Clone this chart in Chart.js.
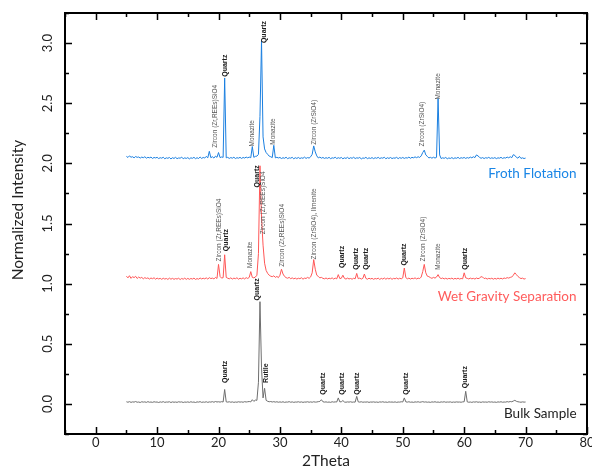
<!DOCTYPE html>
<html>
<head>
<meta charset="utf-8">
<script src="https://cdn.jsdelivr.net/npm/chart.js@4.4.1/dist/chart.umd.min.js"></script>
<style>
  html, body { margin: 0; padding: 0; background: #fff; }
  #wrap { width: 592px; height: 469px; }
</style>
</head>
<body>
<div id="wrap"><canvas id="xrd" width="592" height="469"></canvas></div>
<script>
// 2Theta grid, 5 to 70 in 0.25 steps
const twoTheta = [
  5, 5.25, 5.5, 5.75, 6, 6.25, 6.5, 6.75, 7, 7.25, 7.5, 7.75, 8, 8.25, 8.5, 8.75, 9, 9.25, 9.5, 9.75,
  10, 10.25, 10.5, 10.75, 11, 11.25, 11.5, 11.75, 12, 12.25, 12.5, 12.75, 13, 13.25, 13.5, 13.75, 14, 14.25, 14.5, 14.75,
  15, 15.25, 15.5, 15.75, 16, 16.25, 16.5, 16.75, 17, 17.25, 17.5, 17.75, 18, 18.25, 18.5, 18.75, 19, 19.25, 19.5, 19.75,
  20, 20.25, 20.5, 20.75, 21, 21.25, 21.5, 21.75, 22, 22.25, 22.5, 22.75, 23, 23.25, 23.5, 23.75, 24, 24.25, 24.5, 24.75,
  25, 25.25, 25.5, 25.75, 26, 26.25, 26.5, 26.75, 27, 27.25, 27.5, 27.75, 28, 28.25, 28.5, 28.75, 29, 29.25, 29.5, 29.75,
  30, 30.25, 30.5, 30.75, 31, 31.25, 31.5, 31.75, 32, 32.25, 32.5, 32.75, 33, 33.25, 33.5, 33.75, 34, 34.25, 34.5, 34.75,
  35, 35.25, 35.5, 35.75, 36, 36.25, 36.5, 36.75, 37, 37.25, 37.5, 37.75, 38, 38.25, 38.5, 38.75, 39, 39.25, 39.5, 39.75,
  40, 40.25, 40.5, 40.75, 41, 41.25, 41.5, 41.75, 42, 42.25, 42.5, 42.75, 43, 43.25, 43.5, 43.75, 44, 44.25, 44.5, 44.75,
  45, 45.25, 45.5, 45.75, 46, 46.25, 46.5, 46.75, 47, 47.25, 47.5, 47.75, 48, 48.25, 48.5, 48.75, 49, 49.25, 49.5, 49.75,
  50, 50.25, 50.5, 50.75, 51, 51.25, 51.5, 51.75, 52, 52.25, 52.5, 52.75, 53, 53.25, 53.5, 53.75, 54, 54.25, 54.5, 54.75,
  55, 55.25, 55.5, 55.75, 56, 56.25, 56.5, 56.75, 57, 57.25, 57.5, 57.75, 58, 58.25, 58.5, 58.75, 59, 59.25, 59.5, 59.75,
  60, 60.25, 60.5, 60.75, 61, 61.25, 61.5, 61.75, 62, 62.25, 62.5, 62.75, 63, 63.25, 63.5, 63.75, 64, 64.25, 64.5, 64.75,
  65, 65.25, 65.5, 65.75, 66, 66.25, 66.5, 66.75, 67, 67.25, 67.5, 67.75, 68, 68.25, 68.5, 68.75, 69, 69.25, 69.5, 69.75,
  70
];

// Froth Flotation (offset +2)
const frothFlotation = [
  2.058, 2.049, 2.062, 2.051, 2.055, 2.046, 2.057, 2.050, 2.053, 2.044, 2.052, 2.047, 2.055, 2.043, 2.050, 2.046, 2.052, 2.041, 2.049, 2.045,
  2.050, 2.040, 2.047, 2.043, 2.051, 2.038, 2.046, 2.042, 2.049, 2.037, 2.047, 2.041, 2.050, 2.039, 2.045, 2.043, 2.052, 2.038, 2.046, 2.041,
  2.048, 2.037, 2.046, 2.042, 2.050, 2.039, 2.047, 2.040, 2.053, 2.041, 2.049, 2.044, 2.058, 2.046, 2.100, 2.047, 2.055, 2.044, 2.060, 2.050,
  2.090, 2.048, 2.053, 2.050, 2.710, 2.046, 2.050, 2.041, 2.048, 2.043, 2.051, 2.040, 2.047, 2.043, 2.050, 2.041, 2.049, 2.044, 2.052, 2.046,
  2.052, 2.047, 2.140, 2.050, 2.058, 2.060, 2.075, 2.390, 3.020, 2.220, 2.120, 2.090, 2.075, 2.060, 2.055, 2.048, 2.150, 2.046, 2.050, 2.045,
  2.049, 2.040, 2.047, 2.042, 2.051, 2.039, 2.046, 2.043, 2.050, 2.038, 2.047, 2.041, 2.049, 2.040, 2.046, 2.042, 2.052, 2.041, 2.048, 2.044,
  2.055, 2.075, 2.145, 2.095, 2.062, 2.045, 2.052, 2.043, 2.049, 2.041, 2.047, 2.042, 2.050, 2.039, 2.046, 2.043, 2.051, 2.040, 2.047, 2.042,
  2.049, 2.038, 2.046, 2.041, 2.050, 2.039, 2.047, 2.042, 2.051, 2.040, 2.046, 2.043, 2.049, 2.037, 2.045, 2.042, 2.050, 2.039, 2.046, 2.041,
  2.048, 2.039, 2.047, 2.042, 2.050, 2.040, 2.046, 2.043, 2.051, 2.038, 2.047, 2.041, 2.049, 2.040, 2.045, 2.043, 2.050, 2.039, 2.048, 2.042,
  2.049, 2.041, 2.047, 2.044, 2.052, 2.042, 2.050, 2.046, 2.054, 2.047, 2.055, 2.049, 2.062, 2.090, 2.110, 2.070, 2.058, 2.045, 2.050, 2.043,
  2.051, 2.044, 2.050, 2.540, 2.070, 2.040, 2.046, 2.042, 2.049, 2.038, 2.045, 2.041, 2.048, 2.039, 2.046, 2.042, 2.050, 2.040, 2.047, 2.043,
  2.049, 2.041, 2.048, 2.043, 2.052, 2.046, 2.055, 2.048, 2.070, 2.062, 2.050, 2.042, 2.048, 2.040, 2.047, 2.043, 2.050, 2.041, 2.046, 2.042,
  2.048, 2.039, 2.046, 2.043, 2.050, 2.041, 2.047, 2.044, 2.052, 2.046, 2.055, 2.047, 2.072, 2.066, 2.050, 2.043, 2.058, 2.041, 2.046, 2.040,
  2.044
];

// Wet Gravity Separation (offset +1)
const wetGravity = [
  1.062, 1.048, 1.066, 1.044, 1.058, 1.050, 1.061, 1.043, 1.055, 1.046, 1.052, 1.040, 1.050, 1.043, 1.048, 1.038, 1.047, 1.041, 1.049, 1.037,
  1.046, 1.039, 1.044, 1.036, 1.045, 1.038, 1.043, 1.035, 1.046, 1.037, 1.044, 1.036, 1.042, 1.038, 1.045, 1.034, 1.043, 1.037, 1.046, 1.035,
  1.044, 1.036, 1.043, 1.038, 1.046, 1.035, 1.042, 1.037, 1.047, 1.039, 1.045, 1.040, 1.048, 1.038, 1.050, 1.042, 1.046, 1.039, 1.052, 1.043,
  1.160, 1.060, 1.046, 1.050, 1.240, 1.052, 1.045, 1.040, 1.048, 1.038, 1.046, 1.041, 1.049, 1.037, 1.045, 1.040, 1.048, 1.039, 1.050, 1.043,
  1.052, 1.100, 1.052, 1.048, 1.055, 1.070, 1.250, 1.980, 1.550, 1.320, 1.170, 1.110, 1.085, 1.070, 1.062, 1.058, 1.065, 1.052, 1.060, 1.050,
  1.070, 1.120, 1.080, 1.060, 1.050, 1.045, 1.052, 1.041, 1.048, 1.040, 1.046, 1.038, 1.045, 1.041, 1.049, 1.037, 1.046, 1.043, 1.052, 1.044,
  1.056, 1.090, 1.200, 1.120, 1.070, 1.060, 1.048, 1.052, 1.044, 1.040, 1.047, 1.039, 1.045, 1.041, 1.048, 1.038, 1.046, 1.040, 1.075, 1.042,
  1.045, 1.070, 1.044, 1.038, 1.046, 1.039, 1.043, 1.037, 1.045, 1.040, 1.085, 1.041, 1.046, 1.038, 1.044, 1.080, 1.043, 1.037, 1.045, 1.039,
  1.044, 1.036, 1.043, 1.039, 1.046, 1.035, 1.044, 1.038, 1.047, 1.037, 1.045, 1.039, 1.046, 1.036, 1.044, 1.040, 1.047, 1.038, 1.045, 1.040,
  1.048, 1.130, 1.050, 1.040, 1.046, 1.038, 1.045, 1.041, 1.048, 1.039, 1.046, 1.042, 1.055, 1.100, 1.160, 1.090, 1.062, 1.058, 1.050, 1.044,
  1.052, 1.046, 1.055, 1.075, 1.050, 1.042, 1.047, 1.039, 1.045, 1.038, 1.044, 1.040, 1.046, 1.037, 1.044, 1.039, 1.046, 1.038, 1.043, 1.040,
  1.090, 1.048, 1.044, 1.039, 1.046, 1.040, 1.044, 1.038, 1.047, 1.041, 1.046, 1.058, 1.055, 1.042, 1.046, 1.038, 1.044, 1.040, 1.045, 1.037,
  1.044, 1.038, 1.046, 1.040, 1.045, 1.039, 1.047, 1.043, 1.050, 1.046, 1.052, 1.055, 1.070, 1.090, 1.075, 1.060, 1.050, 1.042, 1.046, 1.038,
  1.042
];

// Bulk Sample
const bulkSample = [
  0.018, 0.014, 0.019, 0.013, 0.017, 0.015, 0.020, 0.014, 0.016, 0.012, 0.018, 0.015, 0.017, 0.013, 0.019, 0.014, 0.016, 0.013, 0.018, 0.015,
  0.016, 0.012, 0.017, 0.014, 0.019, 0.013, 0.016, 0.015, 0.018, 0.012, 0.017, 0.014, 0.016, 0.013, 0.018, 0.015, 0.017, 0.012, 0.016, 0.014,
  0.017, 0.013, 0.018, 0.014, 0.016, 0.012, 0.017, 0.015, 0.019, 0.013, 0.016, 0.014, 0.018, 0.013, 0.017, 0.015, 0.019, 0.014, 0.020, 0.016,
  0.018, 0.015, 0.019, 0.016, 0.120, 0.017, 0.015, 0.018, 0.014, 0.017, 0.013, 0.016, 0.014, 0.018, 0.015, 0.017, 0.014, 0.019, 0.016, 0.018,
  0.020, 0.017, 0.035, 0.021, 0.032, 0.030, 0.180, 0.850, 0.300, 0.050, 0.130, 0.030, 0.022, 0.018, 0.020, 0.016, 0.019, 0.015, 0.018, 0.014,
  0.017, 0.014, 0.018, 0.013, 0.016, 0.015, 0.019, 0.014, 0.017, 0.013, 0.016, 0.015, 0.018, 0.014, 0.017, 0.013, 0.016, 0.015, 0.018, 0.014,
  0.017, 0.014, 0.018, 0.015, 0.016, 0.019, 0.021, 0.035, 0.018, 0.015, 0.017, 0.014, 0.016, 0.013, 0.018, 0.015, 0.017, 0.016, 0.050, 0.017,
  0.018, 0.028, 0.016, 0.014, 0.017, 0.015, 0.018, 0.014, 0.016, 0.015, 0.063, 0.017, 0.015, 0.018, 0.014, 0.016, 0.015, 0.017, 0.013, 0.016,
  0.015, 0.017, 0.014, 0.016, 0.013, 0.017, 0.015, 0.018, 0.014, 0.016, 0.013, 0.017, 0.015, 0.016, 0.014, 0.017, 0.013, 0.016, 0.015, 0.018,
  0.016, 0.050, 0.017, 0.015, 0.018, 0.014, 0.016, 0.013, 0.017, 0.015, 0.018, 0.014, 0.016, 0.019, 0.015, 0.017, 0.014, 0.016, 0.013, 0.017,
  0.015, 0.018, 0.014, 0.016, 0.013, 0.017, 0.015, 0.018, 0.014, 0.016, 0.015, 0.017, 0.013, 0.016, 0.014, 0.017, 0.015, 0.016, 0.014, 0.017,
  0.018, 0.105, 0.017, 0.014, 0.016, 0.013, 0.017, 0.015, 0.018, 0.014, 0.016, 0.013, 0.017, 0.015, 0.016, 0.014, 0.018, 0.015, 0.017, 0.014,
  0.016, 0.013, 0.017, 0.015, 0.018, 0.014, 0.016, 0.015, 0.019, 0.016, 0.020, 0.018, 0.024, 0.030, 0.022, 0.018, 0.016, 0.014, 0.017, 0.015,
  0.016
];

// peak labels: [text, 2Theta, intensity at the foot of the label]
const frothLabels = [
  ['Zircon (Zr,REEs)SiO4', 19.5, 2.13],
  ['Quartz', 21.05, 2.72],
  ['Monazite', 25.5, 2.14],
  ['Quartz', 27.4, 3.0],
  ['Monazite', 28.9, 2.155],
  ['Zircon (ZrSiO4)', 35.6, 2.155],
  ['Zircon (ZrSiO4)', 53.1, 2.14],
  ['Monazite', 55.7, 2.53]
];
const wetLabels = [
  ['Zircon (Zr,REEs)SiO4', 20.1, 1.185],
  ['Quartz', 21.3, 1.27],
  ['Monazite', 25.2, 1.13],
  ['Quartz', 26.3, 1.8],
  ['Zircon (Zr,REEs)SiO4', 27.3, 1.41],
  ['Zircon (Zr,REEs)SiO4', 30.3, 1.14],
  ['Zircon (ZrSiO4), Ilmenite', 35.6, 1.2],
  ['Quartz', 40.1, 1.13],
  ['Quartz', 42.4, 1.115],
  ['Quartz', 44.0, 1.115],
  ['Quartz', 50.2, 1.15],
  ['Zircon (ZrSiO4)', 53.4, 1.185],
  ['Monazite', 55.7, 1.115],
  ['Quartz', 60.2, 1.115]
];
const bulkLabels = [
  ['Quartz', 21.0, 0.175],
  ['Quartz', 26.35, 0.86],
  ['Rutile', 27.7, 0.175],
  ['Quartz', 37.0, 0.077],
  ['Quartz', 40.1, 0.077],
  ['Quartz', 42.6, 0.077],
  ['Quartz', 50.6, 0.077],
  ['Quartz', 60.2, 0.13]
];

const seriesNames = ['Froth Flotation', 'Wet Gravity Separation', 'Bulk Sample'];
const seriesColors = ['#1a7fe0', '#ff5656', '#6e6e6e'];
const nameColors = ['#1a86e6', '#ff5c5c', '#222222'];
// where each series name sits (right end, 2Theta / intensity)
const nameAnchors = [[78.3, 1.915], [78.3, 0.893], [78.3, -0.08]];

const xTickLabels = ['0', '10', '20', '30', '40', '50', '60', '70', '80'];
const yTickLabels = ['0.0', '0.5', '1.0', '1.5', '2.0', '2.5', '3.0'];

const uiFont = 'Lato, "Open Sans", sans-serif';

const toPoints = vals => twoTheta.map((x, i) => ({ x: x, y: vals[i] }));

const framePlugin = {
    id: 'frame',
    afterDraw(chart) {
        const ctx = chart.ctx;
        const a = chart.chartArea;
        const xs = chart.scales.x;
        const ys = chart.scales.y;
        ctx.save();

        // peak annotations
        const drawLabels = (list) => {
            list.forEach(([txt, x, y]) => {
                const px = xs.getPixelForValue(x);
                const py = ys.getPixelForValue(y);
                const isQ = txt === 'Quartz' || txt === 'Rutile';
                ctx.save();
                ctx.translate(px, py);
                ctx.rotate(-Math.PI / 2);
                ctx.font = isQ ? 'bold 7px "Liberation Sans", Arial, sans-serif' : '6.5px "Liberation Sans", Arial, sans-serif';
                ctx.fillStyle = isQ ? '#1a1a1a' : '#555';
                ctx.textAlign = 'left';
                ctx.textBaseline = 'middle';
                ctx.fillText(txt, 0, 0);
                ctx.restore();
            });
        };
        drawLabels(frothLabels);
        drawLabels(wetLabels);
        drawLabels(bulkLabels);

        // series names
        ctx.font = '13.5px ' + uiFont;
        ctx.textAlign = 'right';
        ctx.textBaseline = 'middle';
        seriesNames.forEach((n, i) => {
            ctx.fillStyle = nameColors[i];
            ctx.fillText(n, xs.getPixelForValue(nameAnchors[i][0]), ys.getPixelForValue(nameAnchors[i][1]));
        });

        // frame
        ctx.strokeStyle = '#000';
        ctx.lineWidth = 2;
        ctx.strokeRect(a.left, a.top, a.right - a.left, a.bottom - a.top);

        // inward ticks
        ctx.lineWidth = 1.5;
        ctx.beginPath();
        for (let v = -5; v <= 80; v += 5) {
            const px = Math.round(xs.getPixelForValue(v)) + 0.5;
            const len = v % 10 === 0 ? 7 : 4;
            ctx.moveTo(px, a.bottom); ctx.lineTo(px, a.bottom - len);
            ctx.moveTo(px, a.top); ctx.lineTo(px, a.top + len);
        }
        for (let v = -0.25; v <= 3.25 + 1e-9; v += 0.25) {
            const py = Math.round(ys.getPixelForValue(v)) + 0.5;
            const len = Math.abs(v * 2 - Math.round(v * 2)) < 1e-6 ? 7 : 4;
            ctx.moveTo(a.left, py); ctx.lineTo(a.left + len, py);
            ctx.moveTo(a.right, py); ctx.lineTo(a.right - len, py);
        }
        ctx.stroke();

        // tick labels
        ctx.fillStyle = '#222';
        ctx.font = '13px ' + uiFont;
        ctx.textAlign = 'center';
        ctx.textBaseline = 'middle';
        xTickLabels.forEach(t => {
            ctx.fillText(t, xs.getPixelForValue(Number(t)), a.bottom + 9);
        });
        yTickLabels.forEach(t => {
            ctx.save();
            ctx.translate(a.left - 17, ys.getPixelForValue(Number(t)));
            ctx.rotate(-Math.PI / 2);
            ctx.fillText(t, 0, 0);
            ctx.restore();
        });

        // axis titles
        ctx.font = '15.5px ' + uiFont;
        ctx.fillText('2Theta', (a.left + a.right) / 2, a.bottom + 27);
        ctx.save();
        ctx.translate(18, 210);
        ctx.rotate(-Math.PI / 2);
        ctx.fillText('Normalized Intensity', 0, 0);
        ctx.restore();

        ctx.restore();
    }
};

new Chart(document.getElementById('xrd'), {
    type: 'line',
    data: {
        datasets: [
            { label: seriesNames[0], data: toPoints(frothFlotation), borderColor: seriesColors[0] },
            { label: seriesNames[1], data: toPoints(wetGravity), borderColor: seriesColors[1] },
            { label: seriesNames[2], data: toPoints(bulkSample), borderColor: seriesColors[2] }
        ]
    },
    options: {
        responsive: false,
        devicePixelRatio: 1,
        animation: false,
        layout: { padding: { left: 65, top: 13, right: 5, bottom: 35 } },
        elements: {
            line: { borderWidth: 1, tension: 0 },
            point: { radius: 0 }
        },
        plugins: { legend: { display: false }, tooltip: { enabled: false } },
        scales: {
            x: { type: 'linear', min: -5, max: 80, display: false },
            y: { type: 'linear', min: -0.25, max: 3.25, display: false }
        }
    },
    plugins: [framePlugin]
});
</script>
</body>
</html>
